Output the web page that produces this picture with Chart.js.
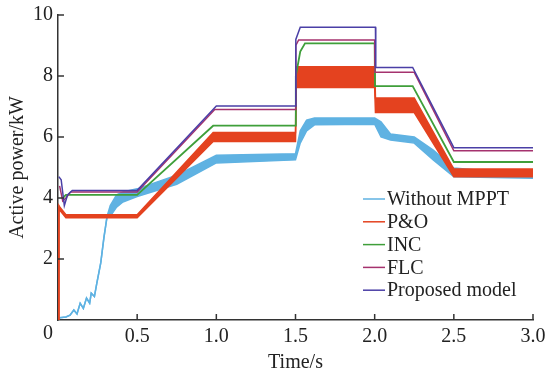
<!DOCTYPE html>
<html>
<head>
<meta charset="utf-8">
<script src="https://cdn.jsdelivr.net/npm/chart.js@4"></script>
<style>
  html, body { margin: 0; padding: 0; background: #fff; }
  #wrap { width: 547px; height: 378px; }
</style>
</head>
<body>
<div id="wrap"><canvas id="powerChart"></canvas></div>
<script>
// tick labels
const xTicks = [0, 0.5, 1.0, 1.5, 2.0, 2.5, 3.0];
const yTicks = [0, 2, 4, 6, 8, 10];

// Proposed model
const propT = [0.005, 0.02, 0.04, 0.06, 0.09, 0.5, 1.0, 1.5, 1.502, 1.53, 2.005, 2.007, 2.24, 2.5, 3.0];
const propP = [4.7, 4.6, 3.75, 4.1, 4.25, 4.25, 7.02, 7.02, 9.2, 9.6, 9.6, 8.28, 8.28, 5.65, 5.65];

// FLC
const flcT = [0.01, 0.03, 0.05, 0.08, 0.5, 0.99, 1.5, 1.502, 1.52, 2.0, 2.002, 2.25, 2.5, 3.0];
const flcP = [4.4, 3.9, 4.0, 4.2, 4.2, 6.9, 6.9, 9.0, 9.18, 9.18, 8.12, 8.12, 5.55, 5.55];

// INC
const incT = [0.03, 0.05, 0.5, 0.98, 1.5, 1.502, 1.53, 1.56, 2.0, 2.002, 2.24, 2.5, 3.0];
const incP = [4.0, 4.1, 4.1, 6.37, 6.37, 8.0, 8.8, 9.07, 9.07, 7.67, 7.67, 5.18, 5.18];

// P&O (oscillating band, upper / lower envelope)
const poT  = [0.004, 0.006, 0.012, 0.05, 0.5, 0.98, 1.5, 1.505, 2.0, 2.005, 2.25, 2.5, 3.0];
const poHi = [0, 3.75, 3.7, 3.45, 3.45, 6.15, 6.15, 8.3, 8.3, 7.28, 7.28, 4.95, 4.95];
const poLo = [0, 3.65, 3.6, 3.35, 3.35, 5.85, 5.85, 7.62, 7.62, 6.8, 6.8, 4.7, 4.7];

// Without MPPT (band, upper / lower envelope)
const womT  = [0.01, 0.05, 0.076, 0.1, 0.12, 0.14, 0.16, 0.18, 0.2, 0.21, 0.23, 0.245, 0.27, 0.29, 0.31, 0.33, 0.37, 0.41, 0.5, 0.75, 1.0, 1.5, 1.53, 1.57, 1.62, 2.0, 2.04, 2.1, 2.25, 2.37, 2.5, 3.0];
const womHi = [0.07, 0.1, 0.16, 0.33, 0.2, 0.55, 0.38, 0.72, 0.55, 0.88, 0.77, 1.2, 1.87, 2.7, 3.4, 3.75, 4.1, 4.2, 4.3, 4.75, 5.4, 5.45, 6.2, 6.55, 6.62, 6.62, 6.5, 6.1, 6.0, 5.57, 4.98, 4.75];
const womLo = [0.07, 0.1, 0.16, 0.33, 0.2, 0.55, 0.38, 0.72, 0.55, 0.88, 0.77, 1.2, 1.87, 2.7, 3.4, 3.4, 3.7, 3.87, 4.05, 4.45, 5.15, 5.25, 5.8, 6.2, 6.4, 6.42, 6.0, 5.9, 5.8, 5.25, 4.7, 4.65];

const legendItems = ['Without MPPT', 'P&O', 'INC', 'FLC', 'Proposed model'];

const COLORS = {
    wom:  '#5fb2e2',
    po:   '#e4421f',
    inc:  '#3f9f3a',
    flc:  '#a5326e',
    prop: '#4a3fa6'
};
const legendColors = [COLORS.wom, COLORS.po, COLORS.inc, COLORS.flc, COLORS.prop];

const FONT = 'Liberation Serif';

function pts(t, v) { return t.map((x, i) => ({ x: x, y: v[i] })); }

function line(data, color, width, fill) {
    return {
        data: data,
        borderColor: color,
        backgroundColor: color,
        borderWidth: width,
        pointRadius: 0,
        tension: 0,
        fill: fill || false
    };
}

// inward ticks, lone "0" at the origin, legend inside the plot
const decorations = {
    id: 'decorations',
    afterDraw(chart) {
        const ctx = chart.ctx;
        const xs = chart.scales.x, ys = chart.scales.y;
        const a = chart.chartArea;
        ctx.save();
        ctx.strokeStyle = '#333';
        ctx.lineWidth = 1.5;
        xTicks.forEach(v => {
            if (v === 0) return;
            const px = xs.getPixelForValue(v);
            ctx.beginPath(); ctx.moveTo(px, a.bottom); ctx.lineTo(px, a.bottom - 6); ctx.stroke();
        });
        yTicks.forEach(v => {
            if (v === 0) return;
            const py = ys.getPixelForValue(v);
            ctx.beginPath(); ctx.moveTo(a.left, py); ctx.lineTo(a.left + 6, py); ctx.stroke();
        });

        ctx.fillStyle = '#222';
        ctx.font = '20px "' + FONT + '"';
        ctx.textAlign = 'center';
        ctx.textBaseline = 'middle';
        ctx.fillText('0', a.left - 10, a.bottom + 14);

        // legend
        ctx.textAlign = 'left';
        legendItems.forEach((label, i) => {
            const y = 199 + i * 22.8;
            ctx.strokeStyle = legendColors[i];
            ctx.lineWidth = 1.5;
            ctx.beginPath(); ctx.moveTo(363, y); ctx.lineTo(385, y); ctx.stroke();
            ctx.fillStyle = '#222';
            ctx.fillText(label, 387, y + 1);
        });
        ctx.restore();
    }
};

new Chart(document.getElementById('powerChart'), {
    type: 'line',
    data: {
        datasets: [
            line(pts(propT, propP), COLORS.prop, 1.5),
            line(pts(flcT, flcP), COLORS.flc, 1.5),
            line(pts(incT, incP), COLORS.inc, 1.8),
            line(pts(poT, poHi), COLORS.po, 1.5, '+1'),
            line(pts(poT, poLo), COLORS.po, 1.5),
            line(pts(womT, womHi), COLORS.wom, 1.5, '+1'),
            line(pts(womT, womLo), COLORS.wom, 1.5)
        ]
    },
    options: {
        responsive: true,
        maintainAspectRatio: false,
        animation: false,
        layout: { padding: { top: 15, right: 14, left: 0, bottom: 0 } },
        plugins: {
            legend: { display: false },
            tooltip: { enabled: false }
        },
        scales: {
            x: {
                type: 'linear',
                min: 0, max: 3,
                afterBuildTicks(scale) { scale.ticks = xTicks.map(v => ({ value: v })); },
                afterFit(scale) { scale.height = 58; scale.paddingLeft = 0; scale.paddingRight = 0; },
                grid: { drawOnChartArea: false, drawTicks: false },
                border: { display: true, color: '#333', width: 1.5 },
                ticks: {
                    color: '#222', padding: 5, maxRotation: 0,
                    font: { family: FONT, size: 20 },
                    callback: v => v === 0 ? '' : v.toFixed(1)
                },
                title: {
                    display: true, text: 'Time/s', color: '#222',
                    font: { family: FONT, size: 20 },
                    padding: { top: 0, bottom: 3 }
                }
            },
            y: {
                min: 0, max: 10,
                afterBuildTicks(scale) { scale.ticks = yTicks.map(v => ({ value: v })); },
                afterFit(scale) { scale.width = 58; scale.paddingTop = 0; scale.paddingBottom = 0; },
                grid: { drawOnChartArea: false, drawTicks: false },
                border: { display: true, color: '#333', width: 1.5 },
                ticks: {
                    color: '#222', padding: 5,
                    font: { family: FONT, size: 20 },
                    callback: v => v === 0 ? '' : v
                },
                title: {
                    display: true, text: 'Active power/kW', color: '#222',
                    font: { family: FONT, size: 20 },
                    padding: { top: 6, bottom: 0 }
                }
            }
        }
    },
    plugins: [decorations]
});
</script>
</body>
</html>
